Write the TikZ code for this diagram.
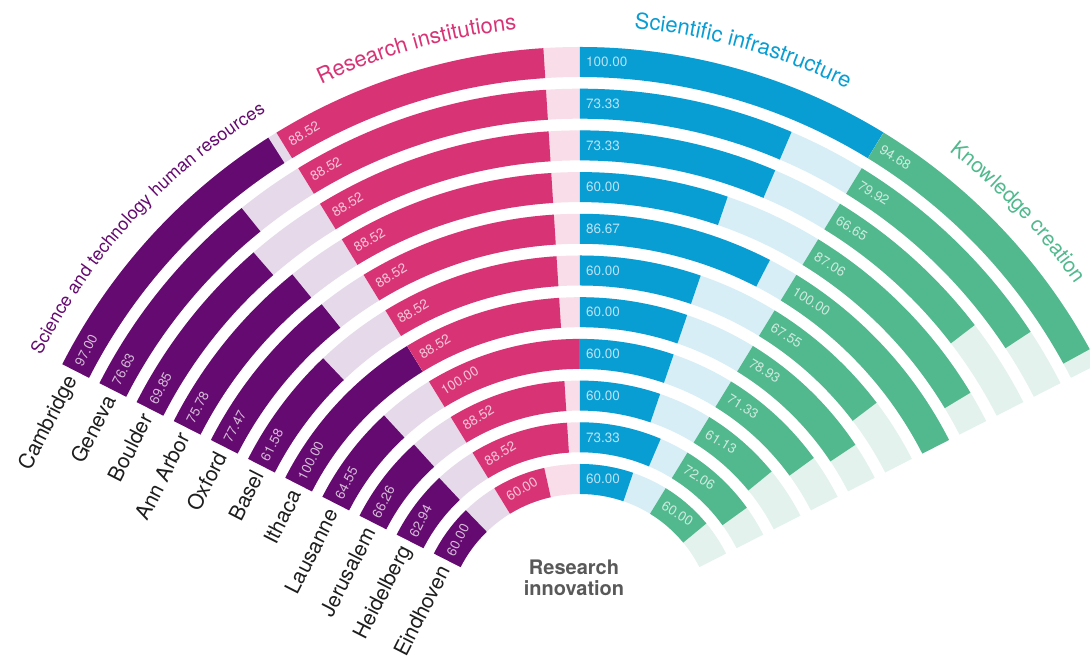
\documentclass[tikz,border=0pt]{standalone}
\usepackage{fontspec}
\setmainfont{TeX Gyre Heros}
\usetikzlibrary{decorations.text}
\definecolor{hrcol}{HTML}{650A70}
\definecolor{hrlight}{HTML}{E6D9EA}
\definecolor{ricol}{HTML}{D83475}
\definecolor{rilight}{HTML}{F9DDE8}
\definecolor{sicol}{HTML}{089DD3}
\definecolor{silight}{HTML}{D8EEF7}
\definecolor{kccol}{HTML}{52B98E}
\definecolor{kclight}{HTML}{E3F2EC}
\definecolor{citycol}{HTML}{1E1E1E}
\definecolor{innocol}{HTML}{595959}
\tikzset{
  valtext/.style={font=\fontsize{13.5}{14}\selectfont,inner sep=0pt},
  citytext/.style={font=\fontsize{21}{22}\selectfont,text=citycol,inner sep=0pt},
  innotext/.style={font=\bfseries\fontsize{20}{21.5}\selectfont,text=innocol,align=center},
}
% one segment of a ring: ring no., start angle, value, colour, light colour, name
\newcommand{\ringseg}[6]{%
  \pgfmathsetmacro{\rout}{581-41.7*(#1-1)}
  \pgfmathsetmacro{\rin}{\rout-30}
  \pgfmathsetmacro{\rmid}{\rout-15}
  \pgfmathsetmacro{\aquart}{#2-31.5}
  \pgfmathsetmacro{\aend}{#2-0.315*#3}
  \pgfmathsetmacro{\apad}{#2-6/\rmid*180/pi}
  \fill[#5] (#2:\rout) arc[start angle=#2,end angle=\aquart,radius=\rout]
    -- (\aquart:\rin) arc[start angle=\aquart,end angle=#2,radius=\rin] -- cycle;
  \fill[#4] (#2:\rout) arc[start angle=#2,end angle=\aend,radius=\rout]
    -- (\aend:\rin) arc[start angle=\aend,end angle=#2,radius=\rin] -- cycle;
  \node[valtext,text=white!72!#4,rotate=#2-90,anchor=west] (#6) at (\apad:\rmid) {#3};
}
\newcommand{\cityring}[6]{%
  \ringseg{#1}{153}{#3}{hrcol}{hrlight}{hr#1}
  \ringseg{#1}{121.5}{#4}{ricol}{rilight}{ri#1}
  \ringseg{#1}{90}{#5}{sicol}{silight}{si#1}
  \ringseg{#1}{58.5}{#6}{kccol}{kclight}{kc#1}
  \pgfmathsetmacro{\rmid}{566-41.7*(#1-1)}
  \pgfmathsetmacro{\apad}{153+7/\rmid*180/pi}
  \node[citytext,rotate=63,anchor=east] (city#1) at (\apad:\rmid) {#2};
}

\begin{document}
\begin{tikzpicture}[x=1pt,y=1pt]
  \useasboundingbox (-580,-32) rectangle (510,628);
  \clip (-580,-32) rectangle (510,628);

  \cityring{1}{Cambridge}{97.00}{88.52}{100.00}{94.68}
  \cityring{2}{Geneva}{76.63}{88.52}{73.33}{79.92}
  \cityring{3}{Boulder}{69.85}{88.52}{73.33}{66.65}
  \cityring{4}{Ann Arbor}{75.78}{88.52}{60.00}{87.06}
  \cityring{5}{Oxford}{77.47}{88.52}{86.67}{100.00}
  \cityring{6}{Basel}{61.58}{88.52}{60.00}{67.55}
  \cityring{7}{Ithaca}{100.00}{88.52}{60.00}{78.93}
  \cityring{8}{Lausanne}{64.55}{100.00}{60.00}{71.33}
  \cityring{9}{Jerusalem}{66.26}{88.52}{60.00}{61.13}
  \cityring{10}{Heidelberg}{62.94}{88.52}{73.33}{72.06}
  \cityring{11}{Eindhoven}{60.00}{60.00}{60.00}{60.00}

  \path[decorate,decoration={text along path,text align=center,text color=hrcol,
      text={|\fontsize{18}{20}\selectfont|Science and technology human resources}}]
    (157.25:604) arc[start angle=157.25,end angle=117.25,radius=604];
  \path[decorate,decoration={text along path,text align=center,text color=ricol,
      text={|\fontsize{22}{24}\selectfont|Research institutions}}]
    (125.75:602) arc[start angle=125.75,end angle=85.75,radius=602];
  \path[decorate,decoration={text along path,text align=center,text color=sicol,
      text={|\fontsize{22}{24}\selectfont|Scientific infrastructure}}]
    (94.25:602) arc[start angle=94.25,end angle=54.25,radius=602];
  \path[decorate,decoration={text along path,text align=center,text color=kccol,
      text={|\fontsize{21}{23}\selectfont|Knowledge creation}}]
    (63.5:603) arc[start angle=63.5,end angle=23.5,radius=603];

  \node[innotext] (resinno) at (-6,50) {Research\\innovation};
\end{tikzpicture}
\end{document}
